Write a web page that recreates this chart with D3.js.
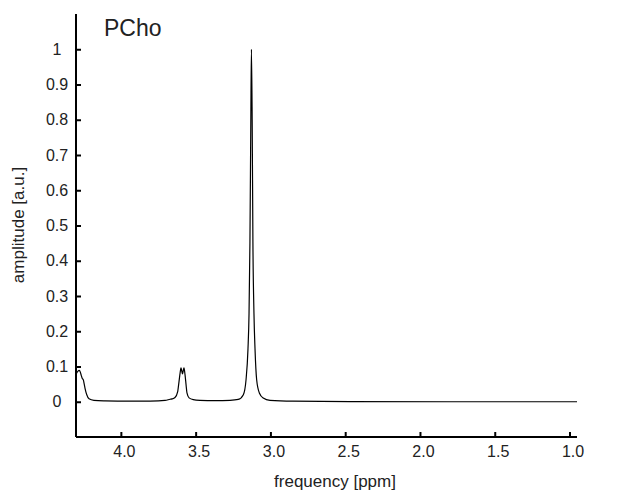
<!DOCTYPE html>
<html>
<head>
<meta charset="utf-8">
<script src="https://cdn.jsdelivr.net/npm/d3@7"></script>
<style>
  body { margin: 0; background: #fff; }
  svg text { font-family: "Liberation Sans", Arial, sans-serif; fill: #222; }
</style>
</head>
<body>
<div id="chart"></div>
<script>
// spectrum: ppm and amplitude
var ppm = [4.297, 4.287, 4.278, 4.271, 4.265, 4.258, 4.251, 4.245, 4.240, 4.228, 4.213, 4.180, 4.106, 3.939, 3.805,
  3.705, 3.671, 3.658, 3.638, 3.620, 3.611, 3.604, 3.598, 3.593, 3.588, 3.583, 3.578, 3.571, 3.564, 3.558, 3.544, 3.516,
  3.471, 3.371, 3.270, 3.215, 3.181, 3.163, 3.150, 3.143, 3.137, 3.131, 3.127, 3.122, 3.117, 3.110, 3.103, 3.092,
  3.074, 3.048, 3.003, 2.849, 2.468, 1.799, 0.95];
var amp = [0.080, 0.087, 0.089, 0.084, 0.075, 0.066, 0.062, 0.050, 0.039, 0.020, 0.0085, 0.004, 0.0025, 0.0015, 0.002,
  0.004, 0.007, 0.008, 0.012, 0.029, 0.058, 0.081, 0.096, 0.088, 0.079, 0.088, 0.096, 0.077, 0.048, 0.025, 0.011, 0.006,
  0.004, 0.003, 0.004, 0.0065, 0.020, 0.0625, 0.15, 0.25, 0.45, 0.80, 1.0, 0.80, 0.45, 0.25, 0.15, 0.0625,
  0.025, 0.0105, 0.004, 0.0015, 0.0005, 0.0, 0.0];

var xTicks = [4.0, 3.5, 3.0, 2.5, 2.0, 1.5, 1.0];
var yTicks = [0, 0.1, 0.2, 0.3, 0.4, 0.5, 0.6, 0.7, 0.8, 0.9, 1];
var title = "PCho";

var svgWidth = 619, svgHeight = 494;

var svg = d3.select("#chart").append("svg")
  .attr("width", svgWidth)
  .attr("height", svgHeight);

var x = d3.scaleLinear().domain([4.3, 0.95]).range([76, 577]);
var y = d3.scaleLinear().domain([-0.1, 1.1]).range([437, 14]);

var data = ppm.map(function(p, i) { return { p: p, a: amp[i] }; });

// spectrum line
var line = d3.line()
  .x(d => x(d.p))
  .y(d => y(d.a))
  .curve(d3.curveMonotoneX);

svg.append("path")
  .datum(data)
  .attr("fill", "none")
  .attr("stroke", "#000")
  .attr("stroke-width", 1.2)
  .attr("d", line);

// axes, ticks pointing inward
var xAxis = d3.axisBottom(x).tickValues(xTicks).tickSize(-5).tickPadding(9)
  .tickFormat(d3.format(".1f"));
var gx = svg.append("g")
  .attr("transform", "translate(0,437)")
  .call(xAxis);

var yAxis = d3.axisLeft(y).tickValues(yTicks).tickSize(-5).tickPadding(14)
  .tickFormat(d => d3.format("~g")(d));
var gy = svg.append("g")
  .attr("transform", "translate(76,0)")
  .call(yAxis);

[gx, gy].forEach(function(g) {
  g.select(".domain").attr("stroke", "#000").attr("stroke-width", 2);
  g.selectAll(".tick line").attr("stroke", "#000").attr("stroke-width", 2);
  g.selectAll(".tick text").attr("font-size", 16).attr("fill", "#222")
    .style("font-family", "'Liberation Sans', Arial, sans-serif");
});
gy.select(".domain").attr("d", "M0,14V437");
gx.select(".domain").attr("d", "M76,0H577");
gy.selectAll(".tick text").attr("text-anchor", "middle").attr("x", -19);
gx.selectAll(".tick text").attr("dx", 3);

// labels
svg.append("text")
  .attr("x", 335)
  .attr("y", 487)
  .attr("text-anchor", "middle")
  .attr("font-size", 17)
  .text("frequency [ppm]");

svg.append("text")
  .attr("transform", "rotate(-90)")
  .attr("x", -225)
  .attr("y", 24)
  .attr("text-anchor", "middle")
  .attr("font-size", 17)
  .text("amplitude [a.u.]");

svg.append("text")
  .attr("x", 104)
  .attr("y", 36)
  .attr("font-size", 23)
  .text(title);
</script>
</body>
</html>
